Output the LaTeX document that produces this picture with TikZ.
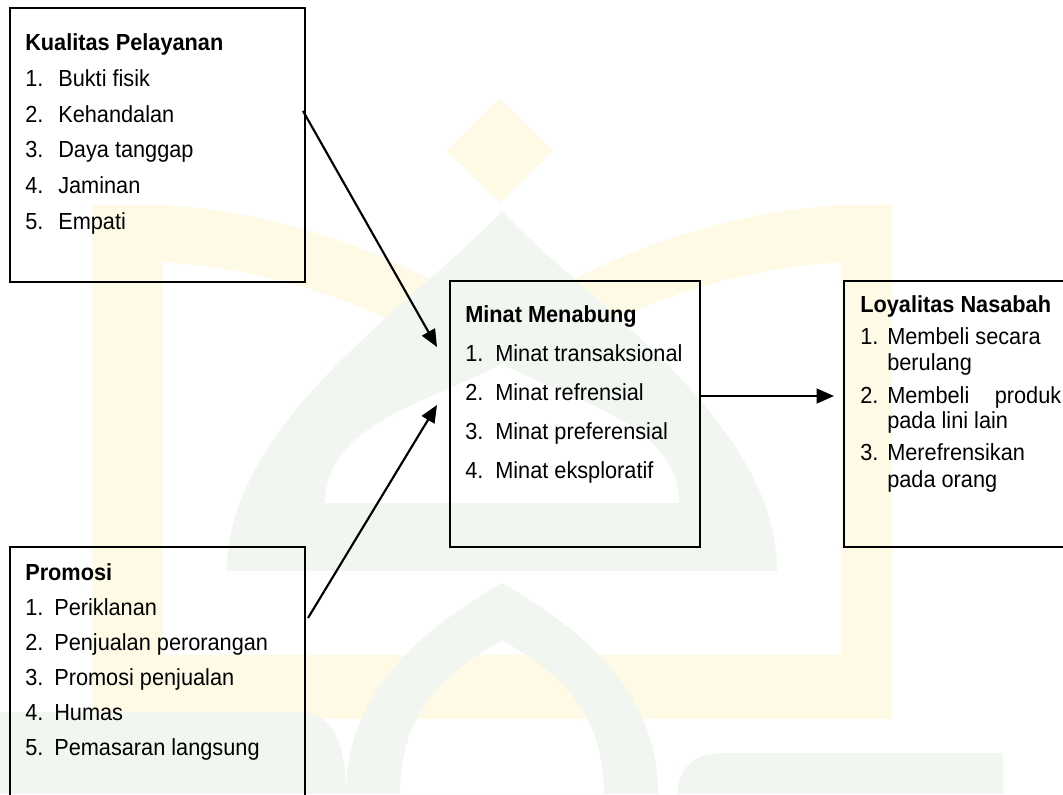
\documentclass[tikz,border=0pt]{standalone}
\usepackage{fontspec}
\usepackage{graphicx}
\setmainfont{Liberation Sans}
\usetikzlibrary{arrows.meta}
\definecolor{wmy}{HTML}{FFFAE6}
\definecolor{wmg}{HTML}{F1F7F0}
\newcommand\dfont{\fontsize{16.3pt}{19pt}\selectfont}
\newcommand\vs[1]{\scalebox{1}[1.07]{#1}}
\tikzset{
  box/.style={draw=black, line width=1.7pt, inner sep=0pt},
  txt/.style={anchor=base west, inner sep=0pt, font=\dfont},
  hd/.style={anchor=base west, inner sep=0pt, font=\dfont\bfseries},
  conn/.style={line width=1.6pt, -{Triangle[length=13pt,width=11pt]}},
  wmyel/.style={fill=wmy, draw=none},
  wmgrn/.style={fill=wmg, draw=none, even odd rule}
}
\begin{document}
\begin{tikzpicture}[x=0.75pt,y=-0.75pt]
\useasboundingbox (0,0) rectangle (1063,794);
\clip (0,0) rectangle (1063,794);
\fill[white] (0,0) rectangle (1063,794);
% ---- watermark (faint logo) ----
\path[wmyel] (500,99) -- (553,151) -- (500,203) -- (447,151) -- cycle;
\path[wmyel] (92,205) rectangle (163,719);
\path[wmyel] (841,205) rectangle (892,719);
\path[wmyel] (92,655) rectangle (892,719);
\path[wmyel] (163,205) .. controls (250,210) and (350,235) .. (450,290)
   -- (440,345) .. controls (340,290) and (250,268) .. (163,262) -- cycle;
\path[wmyel] (841,205) .. controls (754,210) and (654,235) .. (554,290)
   -- (564,345) .. controls (664,290) and (754,268) .. (841,262) -- cycle;
\path[wmgrn] (227,571) .. controls (227,420) and (420,300) .. (502,211)
   .. controls (584,300) and (777,420) .. (777,571) -- cycle
   (325,503) .. controls (325,420) and (440,400) .. (502,363)
   .. controls (564,400) and (679,420) .. (679,503) -- cycle;
\path[wmgrn] (346,794) .. controls (346,680) and (440,620) .. (502,583)
   .. controls (564,620) and (658,680) .. (658,794) -- cycle
   (400,794) .. controls (400,700) and (460,665) .. (502,640)
   .. controls (544,665) and (604,700) .. (604,794) -- cycle;
\path[wmgrn] (0,712) -- (300,712) .. controls (330,712) and (346,740) .. (346,794) -- (0,794) -- cycle;
\path[wmgrn] (678,794) -- (678,785) .. controls (685,760) and (700,753) .. (725,753) -- (1003,753) -- (1003,794) -- cycle;
% ---- boxes ----
\node[box, minimum width=221.25pt, minimum height=205.5pt] (kp) at (157.5,145) {};
\node[box, minimum width=221.25pt, minimum height=197.25pt] (pr) at (157.5,678.5) {};
\node[box, minimum width=187.5pt, minimum height=199.5pt] (mm) at (575,414) {};
\node[box, minimum width=173.25pt, minimum height=199.5pt] (ln) at (959.5,414) {};
% ---- Kualitas Pelayanan ----
\node[hd] (kph) at (25,50) {\vs{Kualitas Pelayanan}};
\node[txt] (kpn1) at (25,86) {\vs{1.}};   \node[txt] (kpt1) at (58,86) {\vs{Bukti fisik}};
\node[txt] (kpn2) at (25,122) {\vs{2.}};  \node[txt] (kpt2) at (58,122) {\vs{Kehandalan}};
\node[txt] (kpn3) at (25,157.5) {\vs{3.}};\node[txt] (kpt3) at (58,157.5) {\vs{Daya tanggap}};
\node[txt] (kpn4) at (25,193) {\vs{4.}};  \node[txt] (kpt4) at (58,193) {\vs{Jaminan}};
\node[txt] (kpn5) at (25,229) {\vs{5.}};  \node[txt] (kpt5) at (58,229) {\vs{Empati}};
% ---- Promosi ----
\node[hd] (prh) at (25,580) {\vs{Promosi}};
\node[txt] (prn1) at (25,615) {\vs{1.}}; \node[txt] (prt1) at (54,615) {\vs{Periklanan}};
\node[txt] (prn2) at (25,650) {\vs{2.}}; \node[txt] (prt2) at (54,650) {\vs{Penjualan perorangan}};
\node[txt] (prn3) at (25,685) {\vs{3.}}; \node[txt] (prt3) at (54,685) {\vs{Promosi penjualan}};
\node[txt] (prn4) at (25,720) {\vs{4.}}; \node[txt] (prt4) at (54,720) {\vs{Humas}};
\node[txt] (prn5) at (25,755) {\vs{5.}}; \node[txt] (prt5) at (54,755) {\vs{Pemasaran langsung}};
% ---- Minat Menabung ----
\node[hd] (mmh) at (465,322) {\vs{Minat Menabung}};
\node[txt] (mmn1) at (465,361) {\vs{1.}}; \node[txt] (mmt1) at (495,361) {\vs{Minat transaksional}};
\node[txt] (mmn2) at (465,400) {\vs{2.}}; \node[txt] (mmt2) at (495,400) {\vs{Minat refrensial}};
\node[txt] (mmn3) at (465,439) {\vs{3.}}; \node[txt] (mmt3) at (495,439) {\vs{Minat preferensial}};
\node[txt] (mmn4) at (465,478) {\vs{4.}}; \node[txt] (mmt4) at (495,478) {\vs{Minat eksploratif}};
% ---- Loyalitas Nasabah ----
\node[hd] (lnh) at (860,312) {\vs{Loyalitas Nasabah}};
\node[txt] (lnn1) at (860,344) {\vs{1.}}; \node[txt] (lnt1) at (887,344) {\vs{Membeli secara}};
\node[txt] (lnt1b) at (887,370) {\vs{berulang}};
\node[txt] (lnn2) at (860,403) {\vs{2.}}; \node[txt] (lnt2) at (887,403) {\vs{\makebox[130.5pt][l]{Membeli\hfill produk}}};
\node[txt] (lnt2b) at (887,428) {\vs{pada lini lain}};
\node[txt] (lnn3) at (860,460) {\vs{3.}}; \node[txt] (lnt3) at (887,460) {\vs{Merefrensikan}};
\node[txt] (lnt3b) at (887,487) {\vs{pada orang}};
% ---- connectors ----
\coordinate (a1s) at (303,111);
\coordinate (a1e) at (437,347);
\coordinate (a2s) at (308,618);
\coordinate (a2e) at (437,405);
\coordinate (a3s) at (700,396);
\coordinate (a3e) at (834,396);
\draw[conn] (a1s) -- (a1e);
\draw[conn] (a2s) -- (a2e);
\draw[conn] (a3s) -- (a3e);
\end{tikzpicture}
\end{document}
